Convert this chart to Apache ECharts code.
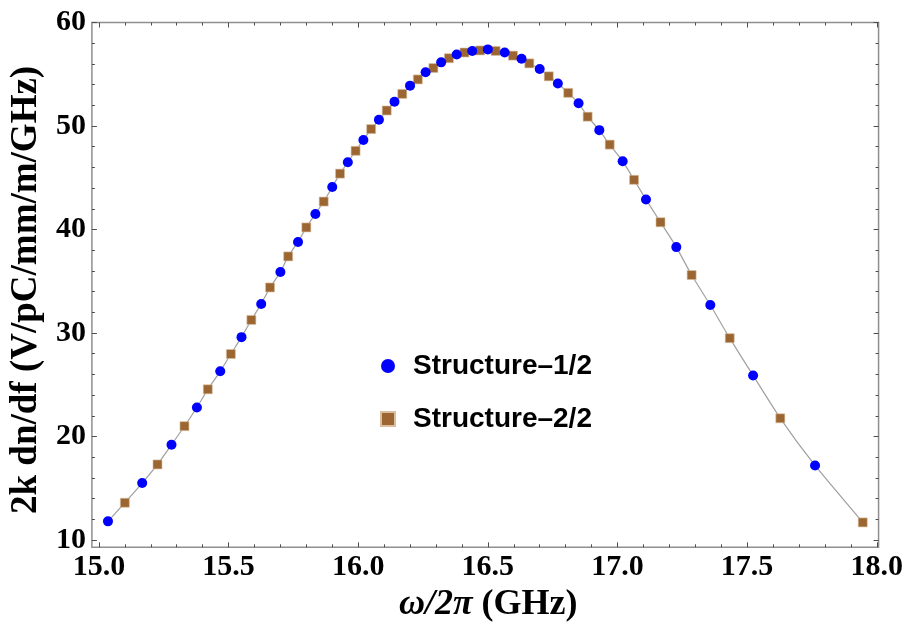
<!DOCTYPE html>
<html>
<head>
<meta charset="utf-8">
<script src="https://cdn.jsdelivr.net/npm/echarts@6/dist/echarts.min.js"></script>
<style>
html,body{margin:0;padding:0;background:#fff;}
#c{width:906px;height:629px;}
</style>
</head>
<body>
<div id="c"></div>
<script>
// ---- data ----
var s1Name = 'Structure\u20131/2';
var s2Name = 'Structure\u20132/2';
var s1x = [15.035,15.167,15.28,15.378,15.468,15.55,15.626,15.70,15.768,15.835,15.90,15.96,16.02,16.08,16.14,16.20,16.26,16.32,16.38,16.44,16.50,16.565,16.63,16.70,16.77,16.85,16.93,17.02,17.11,17.227,17.358,17.523,17.762];
var s1y = [11.8,15.5,19.2,22.8,26.3,29.6,32.8,35.9,38.8,41.5,44.1,46.5,48.65,50.6,52.35,53.9,55.2,56.15,56.9,57.25,57.4,57.1,56.5,55.5,54.1,52.2,49.6,46.6,42.9,38.3,32.7,25.9,17.2];
var s2x = [15.10,15.226,15.33,15.42,15.509,15.588,15.66,15.73,15.80,15.867,15.93,15.99,16.05,16.11,16.17,16.23,16.29,16.35,16.41,16.47,16.53,16.597,16.66,16.735,16.81,16.885,16.97,17.064,17.166,17.286,17.433,17.628,17.946];
var s2y = [13.6,17.3,21.0,24.56,27.97,31.26,34.4,37.4,40.2,42.7,45.4,47.6,49.7,51.5,53.1,54.5,55.6,56.55,57.1,57.3,57.25,56.8,56.05,54.8,53.2,50.9,48.2,44.8,40.7,35.6,29.5,21.76,11.7];

var xTickLabels = [15.0,15.5,16.0,16.5,17.0,17.5,18.0];
var yTickLabels = [10,20,30,40,50,60];
var xMinorTicks = [];
for (var i = 150; i <= 180; i++) { if (i % 5 !== 0) xMinorTicks.push(i / 10); }
var yMinorTicks = [];
for (var j = 10; j <= 60; j += 2) { if (j % 10 !== 0) yMinorTicks.push(j); }

var X_MIN = 14.973, X_MAX = 18.007, Y_MIN = 9.295, Y_MAX = 60;

// build series data
var d1 = s1x.map(function (x, k) { return [x, s1y[k]]; });
var d2 = s2x.map(function (x, k) { return [x, s2y[k]]; });
var curve = d1.concat(d2).sort(function (a, b) { return a[0] - b[0]; });

var tickColor = '#4d4d4d';
var labelFont = { fontFamily: 'Liberation Serif', fontWeight: 'bold', fontSize: 30, color: '#000' };

function xAx(pos, vals, len, labels) {
  var a = {
    type: 'value', position: pos, min: X_MIN, max: X_MAX,
    axisLine: { show: false }, splitLine: { show: false },
    axisTick: { show: true, inside: true, length: len, customValues: vals, lineStyle: { color: tickColor, width: 1 } },
    axisLabel: { show: false }
  };
  if (labels) {
    a.axisLabel = Object.assign({ show: true, customValues: labels, margin: 5,
      formatter: function (v) { return v.toFixed(1); } }, labelFont);
    a.name = '{i|\u03c9/2\u03c0 }{n|(GHz)}';
    a.nameLocation = 'middle';
    a.nameGap = 37;
    a.nameTextStyle = {
      padding: [0, 0, 0, 6],
      rich: {
        i: { fontFamily: 'Liberation Serif', fontStyle: 'italic', fontWeight: 'bold', fontSize: 36, color: '#000' },
        n: { fontFamily: 'Liberation Serif', fontWeight: 'bold', fontSize: 36, color: '#000' }
      }
    };
  }
  return a;
}
function yAx(pos, vals, len, labels) {
  var a = {
    type: 'value', position: pos, min: Y_MIN, max: Y_MAX,
    axisLine: { show: false }, splitLine: { show: false },
    axisTick: { show: true, inside: true, length: len, customValues: vals, lineStyle: { color: tickColor, width: 1 } },
    axisLabel: { show: false }
  };
  if (labels) {
    a.axisLabel = Object.assign({ show: true, customValues: labels, margin: 6 }, labelFont);
    a.name = '2k dn/df (V/pC/mm/m/GHz)';
    a.nameLocation = 'middle';
    a.nameGap = 46;
    a.nameTextStyle = { fontFamily: 'Liberation Serif', fontWeight: 'bold', fontSize: 37, color: '#000', padding: [0, 10, 0, 0] };
  }
  return a;
}

var chart = echarts.init(document.getElementById('c'), null, { renderer: 'canvas' });
chart.setOption({
  animation: false,
  backgroundColor: '#fff',
  grid: { left: 90, right: 27.3, top: 22.5, bottom: 81.7, show: true, borderColor: '#8f8f8f', borderWidth: 1.5, backgroundColor: 'transparent' },
  xAxis: [
    xAx('bottom', xTickLabels, 5, xTickLabels),
    xAx('bottom', xMinorTicks, 3, null),
    xAx('top', xTickLabels, 5, null),
    xAx('top', xMinorTicks, 3, null)
  ],
  yAxis: [
    yAx('left', yTickLabels, 5, yTickLabels),
    yAx('left', yMinorTicks, 3, null),
    yAx('right', yTickLabels, 5, null),
    yAx('right', yMinorTicks, 3, null)
  ],
  legend: {
    orient: 'vertical', left: 380, top: 351, padding: 0,
    itemWidth: 14, itemHeight: 14, itemGap: 23,
    textStyle: { fontFamily: 'Liberation Sans', fontWeight: 'bold', fontSize: 28, color: '#000', lineHeight: 30, padding: [0, 0, 0, 13] },
    data: [{ name: s1Name, icon: 'circle' }, { name: s2Name, icon: 'rect' }]
  },
  series: [
    { type: 'line', name: 'curve', data: curve, showSymbol: false, smooth: 0.2, silent: true,
      lineStyle: { color: '#a0a0a0', width: 1.2 }, z: 1 },
    { type: 'scatter', name: s1Name, data: d1, symbol: 'circle', symbolSize: 10,
      itemStyle: { color: '#0000ff', opacity: 1 }, z: 3 },
    { type: 'scatter', name: s2Name, data: d2, symbol: 'rect', symbolSize: 9,
      itemStyle: { color: '#9c6632', opacity: 1, borderColor: '#d9bfa0', borderWidth: 0.6 }, z: 2 }
  ]
});
</script>
</body>
</html>
